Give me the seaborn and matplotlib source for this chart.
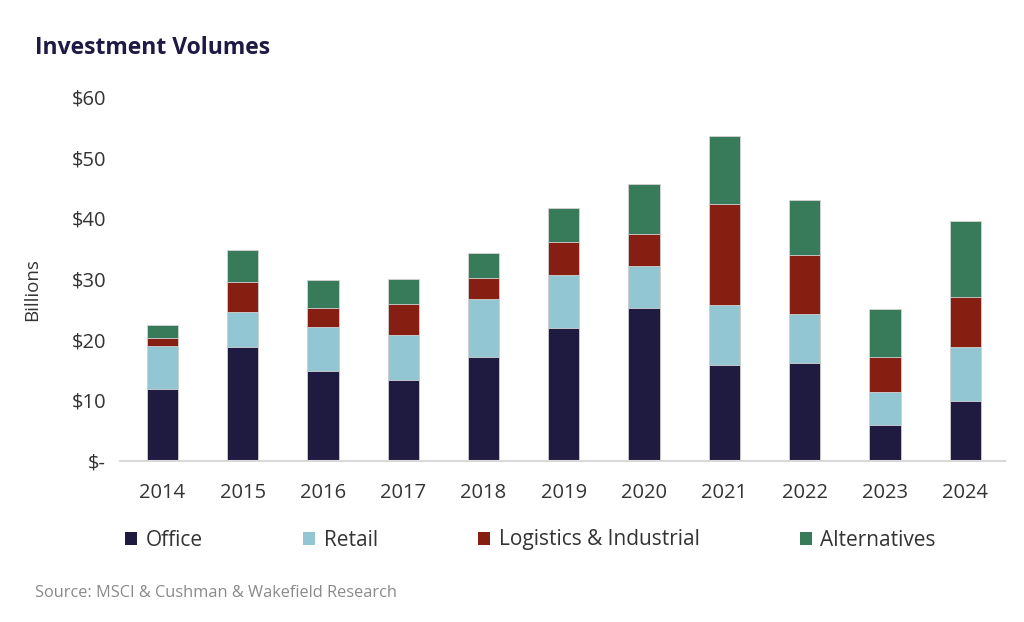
import numpy as np
import pandas as pd
import matplotlib.pyplot as plt
import seaborn as sns
from matplotlib.patches import Patch

years = ["2014", "2015", "2016", "2017", "2018", "2019", "2020", "2021", "2022", "2023", "2024"]
office = [11.9, 18.8, 14.9, 13.4, 17.1, 21.9, 25.2, 15.8, 16.2, 5.9, 9.8]
retail = [7.1, 5.8, 7.2, 7.4, 9.6, 8.7, 6.9, 9.9, 8.0, 5.4, 9.0]
logistics = [1.3, 4.9, 3.1, 5.1, 3.4, 5.5, 5.3, 16.6, 9.7, 5.8, 8.3]
alternatives = [2.1, 5.3, 4.7, 4.1, 4.2, 5.6, 8.2, 11.3, 9.1, 8.0, 12.4]

series = ["Office", "Retail", "Logistics & Industrial", "Alternatives"]
colors = ["#1f1a40", "#92c6d3", "#861f12", "#377b5b"]

df = pd.DataFrame({"Year": years, "Office": office, "Retail": retail,
                   "Logistics & Industrial": logistics, "Alternatives": alternatives})
cum = df[series].cumsum(axis=1)

sns.set_style("white")
plt.rcParams["font.family"] = ["Open Sans", "DejaVu Sans"]
txt = "#333333"

fig = plt.figure(figsize=(10.24, 6.22), dpi=100)
ax = fig.add_axes([0.117, 0.259, 0.864, 0.585])

# draw stacks from top down so each lower segment covers the one above
for s, c in reversed(list(zip(series, colors))):
    sns.barplot(x=df["Year"], y=cum[s], color=c, width=0.39, ax=ax,
                edgecolor="#d4d4d4", linewidth=0.6, saturation=1)

ax.set_ylim(0, 60)
ax.set_xlim(-0.53, 10.49)
ax.set_yticks(range(0, 61, 10))
ax.set_yticklabels(["$-"] + [f"${v}" for v in range(10, 61, 10)])
ax.tick_params(axis="both", length=0, labelsize=14.5, colors=txt)
ax.tick_params(axis="x", pad=16)
ax.tick_params(axis="y", pad=10)
ax.set_xlabel("")
ax.set_ylabel("Billions", fontsize=13.5, color=txt)
ax.yaxis.set_label_coords(-0.089, 0.47)
for sp in ["top", "right", "left"]:
    ax.spines[sp].set_visible(False)
ax.spines["bottom"].set_color("#d9d9d9")
ax.spines["bottom"].set_linewidth(1.5)

fig.text(0.034, 1 - 48 / 622, "Investment Volumes", fontsize=16.5, fontweight="bold",
         color="#1e1a45", va="center", ha="left")

handles = [Patch(facecolor=c, edgecolor="none") for c in colors]
fig.legend(handles, series, loc="center left", bbox_to_anchor=(0.122, 1 - 540 / 622),
           ncol=4, frameon=False, fontsize=15, columnspacing=4.8, handlelength=0.6,
           handleheight=0.6, handletextpad=0.4, borderaxespad=0, borderpad=0,
           labelcolor=txt)

fig.text(0.034, 1 - 593 / 622, "Source: MSCI & Cushman & Wakefield Research",
         fontsize=11.8, color="#8a8a8a", va="center", ha="left")

fig.savefig("out.png", dpi=100)
